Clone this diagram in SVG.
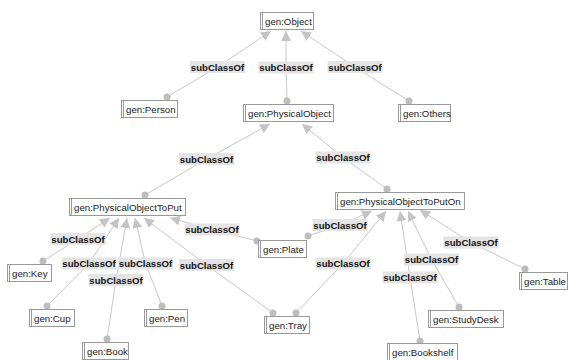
<svg xmlns="http://www.w3.org/2000/svg" width="568" height="360" viewBox="0 0 568 360">
<style>
.box{fill:#fff;stroke:#999;stroke-width:1}
.inner{stroke:#999;stroke-width:1}
.nt{font-family:"Liberation Sans",Arial,sans-serif;font-size:9.7px;fill:#222}
.edge{fill:none;stroke:#c8c8c8;stroke-width:1}
.dot{fill:#bdbdbd}
.lb{fill:#e4e4e4}
.lt{font-family:"Liberation Sans",Arial,sans-serif;font-size:9.6px;font-weight:bold;fill:#111;text-anchor:middle}
</style>
<defs>
<marker id="arr" markerUnits="userSpaceOnUse" markerWidth="12" markerHeight="10" refX="10" refY="5" orient="auto">
<path d="M0,0 L10,5 L0,10 Z" fill="#c4c4c4"/>
</marker>
</defs>
<rect width="568" height="360" fill="#fff"/>
<g id="connectors">
<polyline class="edge" marker-end="url(#arr)" points="167,97 217.5,67 271,31"/>
<polyline class="edge" marker-end="url(#arr)" points="287,101 286,67 286,31"/>
<polyline class="edge" marker-end="url(#arr)" points="409,101 355,67 301,31"/>
<polyline class="edge" marker-end="url(#arr)" points="145,195 206.5,159 270,124"/>
<polyline class="edge" marker-end="url(#arr)" points="387,189 343,157.5 302,124"/>
<polyline class="edge" marker-end="url(#arr)" points="257,241 212,229.5 170,218"/>
<polyline class="edge" marker-end="url(#arr)" points="308,236 340,225 372,211"/>
<polyline class="edge" marker-end="url(#arr)" points="43,261 78,239 110,218"/>
<polyline class="edge" marker-end="url(#arr)" points="47,306 89,263.5 119,218"/>
<polyline class="edge" marker-end="url(#arr)" points="162,306 145.5,263.5 135,218"/>
<polyline class="edge" marker-end="url(#arr)" points="107,339 116,280 127,218"/>
<polyline class="edge" marker-end="url(#arr)" points="273,313 206.5,265 144,218"/>
<polyline class="edge" marker-end="url(#arr)" points="296,313 343,263.5 386,211"/>
<polyline class="edge" marker-end="url(#arr)" points="420,341 410,277.5 400,211"/>
<polyline class="edge" marker-end="url(#arr)" points="459,307 431.5,259.5 408,211"/>
<polyline class="edge" marker-end="url(#arr)" points="525,269 471,242.5 420,210"/>
<g class="dots">
<circle class="dot" cx="167" cy="97" r="3.5"/>
<circle class="dot" cx="287" cy="101" r="3.5"/>
<circle class="dot" cx="409" cy="101" r="3.5"/>
<circle class="dot" cx="145" cy="195" r="3.5"/>
<circle class="dot" cx="387" cy="189" r="3.5"/>
<circle class="dot" cx="257" cy="241" r="3.5"/>
<circle class="dot" cx="308" cy="236" r="3.5"/>
<circle class="dot" cx="43" cy="261" r="3.5"/>
<circle class="dot" cx="47" cy="306" r="3.5"/>
<circle class="dot" cx="162" cy="306" r="3.5"/>
<circle class="dot" cx="107" cy="339" r="3.5"/>
<circle class="dot" cx="273" cy="313" r="3.5"/>
<circle class="dot" cx="296" cy="313" r="3.5"/>
<circle class="dot" cx="420" cy="341" r="3.5"/>
<circle class="dot" cx="459" cy="307" r="3.5"/>
<circle class="dot" cx="525" cy="269" r="3.5"/>
</g>
<g class="labels">
<rect class="lb" x="190" y="61" width="55" height="12"/><text class="lt" x="217.5" y="70.5">subClassOf</text>
<rect class="lb" x="258.5" y="61.5" width="55" height="12"/><text class="lt" x="286" y="71">subClassOf</text>
<rect class="lb" x="327.5" y="61" width="55" height="12"/><text class="lt" x="355" y="70.5">subClassOf</text>
<rect class="lb" x="179" y="153" width="55" height="12"/><text class="lt" x="206.5" y="162.5">subClassOf</text>
<rect class="lb" x="315.5" y="151.5" width="55" height="12"/><text class="lt" x="343" y="161">subClassOf</text>
<rect class="lb" x="184.5" y="223.5" width="55" height="12"/><text class="lt" x="212" y="233">subClassOf</text>
<rect class="lb" x="312.5" y="219" width="55" height="12"/><text class="lt" x="340" y="228.5">subClassOf</text>
<rect class="lb" x="50.5" y="233" width="55" height="12"/><text class="lt" x="78" y="242.5">subClassOf</text>
<rect class="lb" x="61.5" y="257.5" width="55" height="12"/><text class="lt" x="89" y="267">subClassOf</text>
<rect class="lb" x="118" y="257.5" width="55" height="12"/><text class="lt" x="145.5" y="267">subClassOf</text>
<rect class="lb" x="88.5" y="274" width="55" height="12"/><text class="lt" x="116" y="283.5">subClassOf</text>
<rect class="lb" x="179" y="259" width="55" height="12"/><text class="lt" x="206.5" y="268.5">subClassOf</text>
<rect class="lb" x="315.5" y="257.5" width="55" height="12"/><text class="lt" x="343" y="267">subClassOf</text>
<rect class="lb" x="382.5" y="271.5" width="55" height="12"/><text class="lt" x="410" y="281">subClassOf</text>
<rect class="lb" x="404" y="253.5" width="55" height="12"/><text class="lt" x="431.5" y="263">subClassOf</text>
<rect class="lb" x="443.5" y="236.5" width="55" height="12"/><text class="lt" x="471" y="246">subClassOf</text>
</g>
</g>
<g id="n-object"><rect class="box" x="260.5" y="12.5" width="53" height="17"/><line class="inner" x1="262.5" y1="12.5" x2="262.5" y2="29.5"/><text class="nt" x="265" y="25">gen:Object</text></g>
<g id="n-person"><rect class="box" x="121.5" y="100.5" width="56" height="17"/><line class="inner" x1="123.5" y1="100.5" x2="123.5" y2="117.5"/><text class="nt" x="126" y="113">gen:Person</text></g>
<g id="n-physicalobject"><rect class="box" x="243.5" y="104.5" width="90" height="17"/><line class="inner" x1="245.5" y1="104.5" x2="245.5" y2="121.5"/><text class="nt" x="248" y="117">gen:PhysicalObject</text></g>
<g id="n-others"><rect class="box" x="398.5" y="104.5" width="52" height="17"/><line class="inner" x1="400.5" y1="104.5" x2="400.5" y2="121.5"/><text class="nt" x="403" y="117">gen:Others</text></g>
<g id="n-toput"><rect class="box" x="69.5" y="198.5" width="116" height="17"/><line class="inner" x1="71.5" y1="198.5" x2="71.5" y2="215.5"/><text class="nt" x="74" y="211">gen:PhysicalObjectToPut</text></g>
<g id="n-toputon"><rect class="box" x="335.5" y="192.5" width="129" height="17"/><line class="inner" x1="337.5" y1="192.5" x2="337.5" y2="209.5"/><text class="nt" x="340" y="205">gen:PhysicalObjectToPutOn</text></g>
<g id="n-plate"><rect class="box" x="258.5" y="240.5" width="48" height="17"/><line class="inner" x1="260.5" y1="240.5" x2="260.5" y2="257.5"/><text class="nt" x="263" y="253">gen:Plate</text></g>
<g id="n-key"><rect class="box" x="7.5" y="264.5" width="44" height="17"/><line class="inner" x1="9.5" y1="264.5" x2="9.5" y2="281.5"/><text class="nt" x="12" y="277">gen:Key</text></g>
<g id="n-cup"><rect class="box" x="29.5" y="309.5" width="45" height="17"/><line class="inner" x1="31.5" y1="309.5" x2="31.5" y2="326.5"/><text class="nt" x="34" y="322">gen:Cup</text></g>
<g id="n-pen"><rect class="box" x="144.5" y="309.5" width="43" height="17"/><line class="inner" x1="146.5" y1="309.5" x2="146.5" y2="326.5"/><text class="nt" x="149" y="322">gen:Pen</text></g>
<g id="n-book"><rect class="box" x="82.5" y="342.5" width="46" height="17"/><line class="inner" x1="84.5" y1="342.5" x2="84.5" y2="359.5"/><text class="nt" x="87" y="355">gen:Book</text></g>
<g id="n-tray"><rect class="box" x="264.5" y="316.5" width="45" height="17"/><line class="inner" x1="266.5" y1="316.5" x2="266.5" y2="333.5"/><text class="nt" x="269" y="329">gen:Tray</text></g>
<g id="n-table"><rect class="box" x="519.5" y="272.5" width="48" height="17"/><line class="inner" x1="521.5" y1="272.5" x2="521.5" y2="289.5"/><text class="nt" x="524" y="285">gen:Table</text></g>
<g id="n-studydesk"><rect class="box" x="428.5" y="310.5" width="75" height="17"/><line class="inner" x1="430.5" y1="310.5" x2="430.5" y2="327.5"/><text class="nt" x="433" y="323">gen:StudyDesk</text></g>
<g id="n-bookshelf"><rect class="box" x="387.5" y="343.5" width="70" height="17"/><line class="inner" x1="389.5" y1="343.5" x2="389.5" y2="360.5"/><text class="nt" x="392" y="356">gen:Bookshelf</text></g>
</svg>
